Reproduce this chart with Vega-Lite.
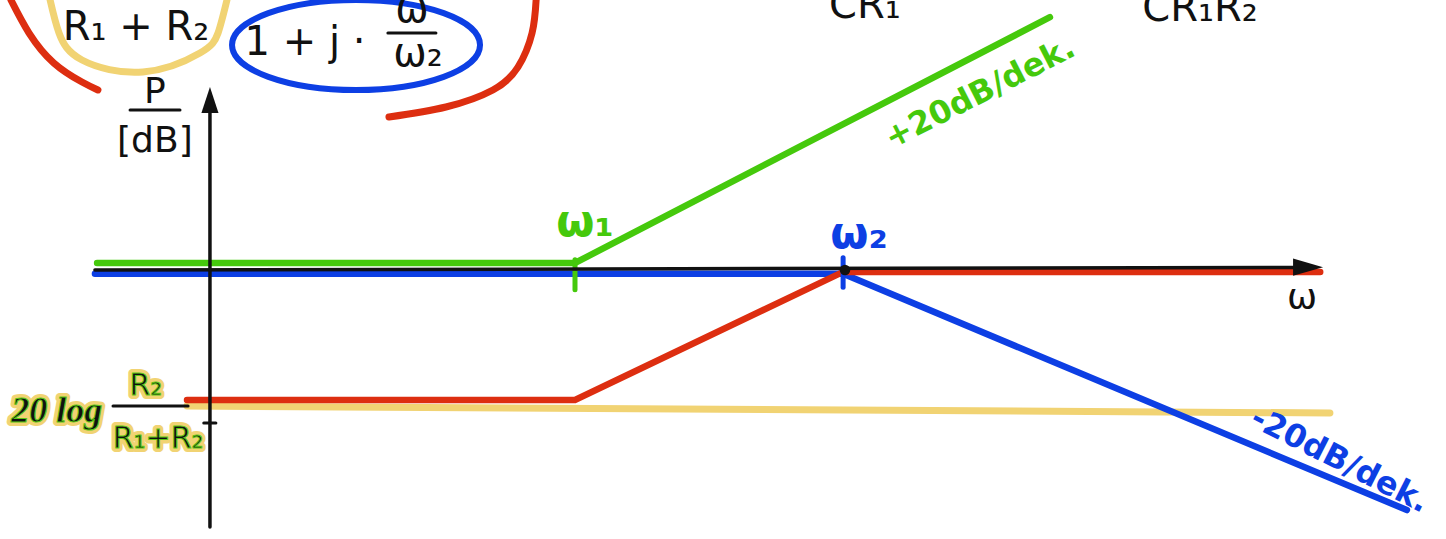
{
  "$schema": "https://vega.github.io/schema/vega-lite/v6.json",
  "width": 1446,
  "height": 539,
  "autosize": {"type": "none"},
  "padding": 0,
  "background": "white",
  "config": {"view": {"stroke": null}},
  "datasets": {
    "asymptotes": [
      {"curve": "zero_w1", "i": 0, "lgw": -1.77, "db": 1.1},
      {"curve": "zero_w1", "i": 1, "lgw": 0.0, "db": 1.1},
      {"curve": "zero_w1", "i": 2, "lgw": 1.759, "db": 39.5},
      {"curve": "pole_w2", "i": 0, "lgw": -1.778, "db": -0.6},
      {"curve": "pole_w2", "i": 1, "lgw": 0.993, "db": -0.6},
      {"curve": "pole_w2", "i": 2, "lgw": 3.081, "db": -37.5},
      {"curve": "total", "i": 0, "lgw": -1.437, "db": -20.3},
      {"curve": "total", "i": 1, "lgw": 0.0, "db": -20.3},
      {"curve": "total", "i": 2, "lgw": 0.993, "db": -0.3},
      {"curve": "total", "i": 3, "lgw": 2.76, "db": -0.3},
      {"curve": "gain", "i": 0, "lgw": -1.437, "db": -21.25},
      {"curve": "gain", "i": 1, "lgw": 2.796, "db": -22.34}
    ],
    "strokes": [
      {"curve": "gain", "part": "ring", "i": 0, "lgw": -1.944, "db": 42.19},
      {"curve": "gain", "part": "ring", "i": 1, "lgw": -1.911, "db": 37.03},
      {"curve": "gain", "part": "ring", "i": 2, "lgw": -1.826, "db": 32.81},
      {"curve": "gain", "part": "ring", "i": 3, "lgw": -1.6, "db": 30.94},
      {"curve": "gain", "part": "ring", "i": 4, "lgw": -1.389, "db": 33.91},
      {"curve": "gain", "part": "ring", "i": 5, "lgw": -1.322, "db": 37.03},
      {"curve": "gain", "part": "ring", "i": 6, "lgw": -1.289, "db": 42.19},
      {"curve": "total", "part": "left", "i": 0, "lgw": -2.089, "db": 42.19},
      {"curve": "total", "part": "left", "i": 1, "lgw": -2.022, "db": 37.03},
      {"curve": "total", "part": "left", "i": 2, "lgw": -1.93, "db": 32.34},
      {"curve": "total", "part": "left", "i": 3, "lgw": -1.826, "db": 29.38},
      {"curve": "total", "part": "left", "i": 4, "lgw": -1.767, "db": 28.13},
      {"curve": "total", "part": "right", "i": 0, "lgw": -0.144, "db": 42.19},
      {"curve": "total", "part": "right", "i": 1, "lgw": -0.159, "db": 37.03},
      {"curve": "total", "part": "right", "i": 2, "lgw": -0.211, "db": 31.72},
      {"curve": "total", "part": "right", "i": 3, "lgw": -0.304, "db": 28.13},
      {"curve": "total", "part": "right", "i": 4, "lgw": -0.478, "db": 25.47},
      {"curve": "total", "part": "right", "i": 5, "lgw": -0.689, "db": 23.91}
    ],
    "rings": [
      {"curve": "pole_w2", "lgw": -0.811, "db": 35.16}
    ],
    "ticks": [
      {"curve": "zero_w1", "lgw": 0.0, "db": 1.6, "db2": -3.1},
      {"curve": "pole_w2", "lgw": 0.993, "db": 1.9, "db2": -2.7}
    ],
    "axes": [
      {"axis": "w", "i": 0, "lgw": -1.778, "db": 0.0},
      {"axis": "w", "i": 1, "lgw": 2.685, "db": 0.4},
      {"axis": "P", "i": 0, "lgw": -1.352, "db": -40.16},
      {"axis": "P", "i": 1, "lgw": -1.352, "db": 25.0}
    ],
    "arrows": [
      {"axis": "w", "lgw": 2.715, "db": 0.45},
      {"axis": "P", "lgw": -1.352, "db": 26.56}
    ],
    "bars": [
      {"lgw": -1.648, "lgw2": -1.463, "db": 25.0},
      {"lgw": -0.693, "lgw2": -0.515, "db": 37.03},
      {"lgw": -1.711, "lgw2": -1.433, "db": -21.25},
      {"lgw": -1.375, "lgw2": -1.33, "db": -23.9}
    ],
    "dots": [
      {"lgw": 1.0, "db": 0.0}
    ],
    "labels": [
      {"kind": "formula", "text": "R₁ + R₂", "lgw": -1.626, "db": 35.94},
      {"kind": "formula", "text": "1 + j ·", "lgw": -1.0, "db": 33.6},
      {"kind": "formula", "text": "ω", "lgw": -0.604, "db": 38.75},
      {"kind": "formula", "text": "ω₂", "lgw": -0.581, "db": 31.9},
      {"kind": "formula", "text": "CR₁", "lgw": 1.074, "db": 39.4},
      {"kind": "formula", "text": "CR₁R₂", "lgw": 2.315, "db": 38.9},
      {"kind": "axis", "text": "P", "lgw": -1.556, "db": 26.1},
      {"kind": "axis", "text": "[dB]", "lgw": -1.556, "db": 18.44},
      {"kind": "axis", "text": "ω", "lgw": 2.693, "db": -6.1},
      {"kind": "corner", "curve": "zero_w1", "text": "ω₁", "lgw": 0.037, "db": 5.3},
      {"kind": "corner", "curve": "pole_w2", "text": "ω₂", "lgw": 1.052, "db": 3.44},
      {"kind": "rise", "curve": "zero_w1", "text": "+20dB/dek.", "lgw": 1.5, "db": 27.66},
      {"kind": "fall", "curve": "pole_w2", "text": "-20dB/dek.", "lgw": 2.833, "db": -29.69},
      {"kind": "gainlog", "text": "20 log", "lgw": -1.919, "db": -23.75},
      {"kind": "gainfrac", "text": "R₂", "lgw": -1.589, "db": -19.5},
      {"kind": "gainfrac", "text": "R₁+R₂", "lgw": -1.544, "db": -27.8}
    ]
  },
  "encoding": {
    "x": {"field": "lgw", "type": "quantitative", "scale": {"domain": [-2.1296, 3.2259], "nice": false, "zero": false}, "axis": null},
    "y": {"field": "db", "type": "quantitative", "scale": {"domain": [-42.03, 42.19], "nice": false, "zero": false}, "axis": null}
  },
  "layer": [
    {
      "data": {"name": "asymptotes"},
      "transform": [{"filter": "datum.curve === 'gain'"}],
      "mark": {"type": "line", "strokeWidth": 7, "strokeCap": "round", "clip": true},
      "encoding": {
        "color": {"field": "curve", "type": "nominal", "scale": {"domain": ["zero_w1", "pole_w2", "total", "gain"], "range": ["#45c90c", "#0d3fe4", "#dd2e10", "#f1d373"]}, "legend": null},
        "order": {"field": "i", "type": "quantitative"}
      }
    },
    {
      "data": {"name": "asymptotes"},
      "transform": [{"filter": "datum.curve !== 'gain'"}],
      "mark": {"type": "line", "strokeWidth": 6.5, "strokeCap": "round", "clip": true},
      "encoding": {
        "color": {"field": "curve", "type": "nominal", "scale": {"domain": ["zero_w1", "pole_w2", "total", "gain"], "range": ["#45c90c", "#0d3fe4", "#dd2e10", "#f1d373"]}, "legend": null},
        "order": {"field": "i", "type": "quantitative"}
      }
    },
    {
      "data": {"name": "strokes"},
      "mark": {"type": "line", "interpolate": "natural", "strokeWidth": 7, "strokeCap": "round", "clip": true},
      "encoding": {
        "color": {"field": "curve", "type": "nominal", "scale": {"domain": ["zero_w1", "pole_w2", "total", "gain"], "range": ["#45c90c", "#0d3fe4", "#dd2e10", "#f1d373"]}, "legend": null},
        "detail": {"field": "part", "type": "nominal"},
        "order": {"field": "i", "type": "quantitative"}
      }
    },
    {
      "data": {"name": "rings"},
      "mark": {
        "type": "point",
        "filled": false,
        "opacity": 1,
        "strokeWidth": 6,
        "size": 61504,
        "shape": "M1,0 C1,0.2005 0.5523,0.363 0,0.363 C-0.5523,0.363 -1,0.2005 -1,0 C-1,-0.2005 -0.5523,-0.363 0,-0.363 C0.5523,-0.363 1,-0.2005 1,0 Z"
      },
      "encoding": {
        "color": {"field": "curve", "type": "nominal", "scale": {"domain": ["zero_w1", "pole_w2", "total", "gain"], "range": ["#45c90c", "#0d3fe4", "#dd2e10", "#f1d373"]}, "legend": null}
      }
    },
    {
      "data": {"name": "ticks"},
      "mark": {"type": "rule", "strokeWidth": 5, "strokeCap": "round"},
      "encoding": {
        "y2": {"field": "db2"},
        "color": {"field": "curve", "type": "nominal", "scale": {"domain": ["zero_w1", "pole_w2", "total", "gain"], "range": ["#45c90c", "#0d3fe4", "#dd2e10", "#f1d373"]}, "legend": null}
      }
    },
    {
      "data": {"name": "axes"},
      "mark": {"type": "line", "color": "#111111", "strokeWidth": 3.5, "strokeCap": "round"},
      "encoding": {
        "detail": {"field": "axis", "type": "nominal"},
        "order": {"field": "i", "type": "quantitative"}
      }
    },
    {
      "data": {"name": "arrows"},
      "mark": {"type": "point", "filled": true, "opacity": 1, "color": "#111111", "size": 900},
      "encoding": {
        "shape": {
          "field": "axis",
          "type": "nominal",
          "scale": {"domain": ["w", "P"], "range": ["M-1,-0.57 L1,0 L-1,0.57 Z", "M0,-0.87 L0.57,0.87 L-0.57,0.87 Z"]},
          "legend": null
        }
      }
    },
    {
      "data": {"name": "bars"},
      "mark": {"type": "rule", "color": "#111111", "strokeWidth": 3, "strokeCap": "round"},
      "encoding": {"x2": {"field": "lgw2"}}
    },
    {
      "data": {"name": "dots"},
      "mark": {"type": "point", "filled": true, "opacity": 1, "color": "#111111", "size": 110}
    },
    {
      "data": {"name": "labels"},
      "transform": [{"filter": "datum.kind === 'formula'"}],
      "mark": {"type": "text", "font": "DejaVu Sans", "fontSize": 40, "align": "center", "baseline": "alphabetic", "color": "#111111"},
      "encoding": {"text": {"field": "text"}}
    },
    {
      "data": {"name": "labels"},
      "transform": [{"filter": "datum.kind === 'axis'"}],
      "mark": {"type": "text", "font": "DejaVu Sans", "fontSize": 36, "align": "center", "baseline": "alphabetic", "color": "#111111"},
      "encoding": {"text": {"field": "text"}}
    },
    {
      "data": {"name": "labels"},
      "transform": [{"filter": "datum.kind === 'corner'"}],
      "mark": {"type": "text", "font": "DejaVu Sans", "fontWeight": "bold", "fontSize": 44, "align": "center", "baseline": "alphabetic"},
      "encoding": {
        "text": {"field": "text"},
        "color": {"field": "curve", "type": "nominal", "scale": {"domain": ["zero_w1", "pole_w2", "total", "gain"], "range": ["#45c90c", "#0d3fe4", "#dd2e10", "#f1d373"]}, "legend": null}
      }
    },
    {
      "data": {"name": "labels"},
      "transform": [{"filter": "datum.kind === 'rise'"}],
      "mark": {"type": "text", "font": "DejaVu Sans", "fontWeight": "bold", "fontSize": 32, "align": "center", "baseline": "middle", "angle": -27},
      "encoding": {
        "text": {"field": "text"},
        "color": {"field": "curve", "type": "nominal", "scale": {"domain": ["zero_w1", "pole_w2", "total", "gain"], "range": ["#45c90c", "#0d3fe4", "#dd2e10", "#f1d373"]}, "legend": null}
      }
    },
    {
      "data": {"name": "labels"},
      "transform": [{"filter": "datum.kind === 'fall'"}],
      "mark": {"type": "text", "font": "DejaVu Sans", "fontWeight": "bold", "fontSize": 32, "align": "center", "baseline": "middle", "angle": 27},
      "encoding": {
        "text": {"field": "text"},
        "color": {"field": "curve", "type": "nominal", "scale": {"domain": ["zero_w1", "pole_w2", "total", "gain"], "range": ["#45c90c", "#0d3fe4", "#dd2e10", "#f1d373"]}, "legend": null}
      }
    },
    {
      "data": {"name": "labels"},
      "transform": [{"filter": "datum.kind === 'gainlog'"}],
      "mark": {"type": "text", "font": "Liberation Serif", "fontWeight": "bold", "fontStyle": "italic", "fontSize": 36, "align": "center", "baseline": "alphabetic", "fill": "#f1d373", "stroke": "#f1d373", "strokeWidth": 8, "strokeJoin": "round"},
      "encoding": {"text": {"field": "text"}}
    },
    {
      "data": {"name": "labels"},
      "transform": [{"filter": "datum.kind === 'gainfrac'"}],
      "mark": {"type": "text", "font": "DejaVu Sans", "fontSize": 30, "align": "center", "baseline": "alphabetic", "fill": "#f1d373", "stroke": "#f1d373", "strokeWidth": 8, "strokeJoin": "round"},
      "encoding": {"text": {"field": "text"}}
    },
    {
      "data": {"name": "labels"},
      "transform": [{"filter": "datum.kind === 'gainlog'"}],
      "mark": {"type": "text", "font": "Liberation Serif", "fontWeight": "bold", "fontStyle": "italic", "fontSize": 36, "align": "center", "baseline": "alphabetic", "fill": "#111111", "stroke": "#5cc814", "strokeWidth": 1},
      "encoding": {"text": {"field": "text"}}
    },
    {
      "data": {"name": "labels"},
      "transform": [{"filter": "datum.kind === 'gainfrac'"}],
      "mark": {"type": "text", "font": "DejaVu Sans", "fontSize": 30, "align": "center", "baseline": "alphabetic", "fill": "#111111", "stroke": "#5cc814", "strokeWidth": 1},
      "encoding": {"text": {"field": "text"}}
    }
  ]
}
